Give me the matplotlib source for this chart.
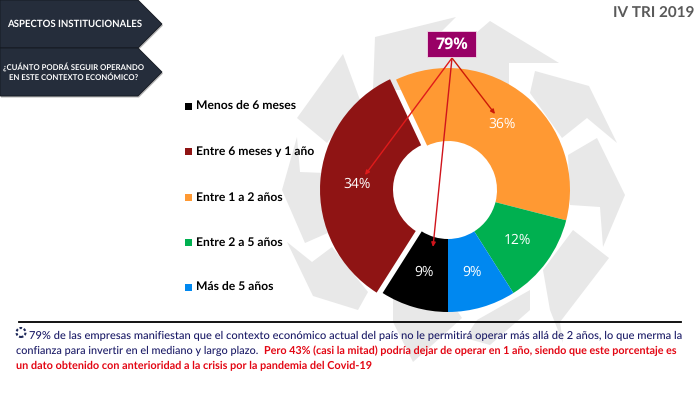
import matplotlib
matplotlib.use("Agg")
import matplotlib.pyplot as plt
from matplotlib.patches import Polygon, Rectangle, Circle

plt.rcParams["text.hinting"] = "no_hinting"
plt.rcParams["text.hinting_factor"] = 8

categories = ["Menos de 6 meses", "Entre 6 meses y 1 año", "Entre 1 a 2 años",
              "Entre 2 a 5 años", "Más de 5 años"]
values = [9, 34, 36, 12, 9]
colors = ["#000000", "#8f1414", "#ff9933", "#00b050", "#0088f0"]
explode = [0, 6, 0, 0, 0]

FONT = "Lato"
H = 394
def Y(y):
    return H - y

fig = plt.figure(figsize=(7, 3.94), dpi=100, facecolor="white")
ax = fig.add_axes([0, 0, 1, 1])

# grey pinwheel in the background
GREY = "#e8e8e8"
shapes = [
    [(375, 37), (456, 17), (428, 45), (476, 33), (490, 21), (559, 63), (509, 63), (509, 90), (373, 90)],
    [(343, 54), (297, 118), (327, 143), (360, 100)],
    [(297, 137), (300, 172), (325, 173), (330, 232), (305, 243), (282, 190)],
    [(287, 242), (312, 262), (332, 247), (368, 292), (358, 310), (313, 296)],
    [(393, 295), (393, 322), (413, 362), (440, 338), (462, 318), (450, 300)],
    [(477, 320), (530, 290), (530, 310), (490, 345), (465, 338)],
    [(543, 270), (573, 230), (609, 258), (560, 322), (563, 343), (550, 310)],
    [(597, 138), (568, 155), (570, 205), (600, 207), (603, 247), (625, 195)],
    [(535, 71), (589, 86), (617, 143), (587, 118), (562, 138), (530, 93)],
]
for s in shapes:
    ax.add_patch(Polygon([(x, Y(y)) for x, y in s], closed=True, fc=GREY, ec="none", zorder=1))

# donut
wedges, texts, autotexts = ax.pie(
    values, colors=colors, explode=explode, startangle=270, counterclock=False,
    center=(448, Y(190)), radius=122, wedgeprops=dict(width=73, linewidth=0),
    autopct=lambda p: f"{round(p)}%", pctdistance=0.70,
    textprops=dict(color="white", fontsize=10, family="Open Sans"))
for w in wedges:
    w.set_zorder(2)
for t in autotexts:
    t.set_zorder(3)

ax.set_xlim(0, 700)
ax.set_ylim(0, H)
ax.set_aspect("auto")
ax.axis("off")

# header chevrons
DARK = "#252d3b"
for top in (0, 48):
    pts = [(0, top), (138, top), (162, top + 24), (138, top + 48), (0, top + 48)]
    ax.add_patch(Polygon([(x + 1, Y(y + 1.5)) for x, y in pts], closed=True, fc="#b5b5b5", ec="none", zorder=4))
    ax.add_patch(Polygon([(x, Y(y)) for x, y in pts], closed=True, fc=DARK, ec="#14181f", lw=0.6, zorder=5))
ax.text(75, Y(24), "ASPECTOS INSTITUCIONALES", color="white", fontsize=6.9, fontweight="bold",
        family=FONT, ha="center", va="center", zorder=6)
ax.text(74, Y(67), "¿CUÁNTO PODRÁ SEGUIR OPERANDO", color="white", fontsize=5.6, fontweight="bold",
        family=FONT, ha="center", va="center", zorder=6)
ax.text(74, Y(77.5), "EN ESTE CONTEXTO ECONÓMICO?", color="white", fontsize=5.6, fontweight="bold",
        family=FONT, ha="center", va="center", zorder=6)

ax.text(694, Y(14), "IV TRI 2019", color="#595959", fontsize=11, fontweight="bold",
        family=FONT, ha="right", va="center", zorder=6)

# legend
for cat, col, y in zip(categories, colors, [106, 151.5, 197, 242, 287]):
    ax.add_patch(Rectangle((185, Y(y + 3.5)), 7, 7, fc=col, ec="none", zorder=6))
    ax.text(196, Y(y), cat, color="black", fontsize=8.7, fontweight="bold", family=FONT,
            ha="left", va="center", zorder=6)

# callout
ax.add_patch(Rectangle((427, Y(57)), 49, 26, fc="#990066", ec="#f3d9e8", lw=0.6, zorder=7))
ax.text(451.5, Y(44.5), "79%", color="white", fontsize=11.5, fontweight="bold", family="Open Sans",
        ha="center", va="center", zorder=8)
for end, col in [((365, 175), "#e01b1b"), ((433, 247), "#d0141c"), ((495, 114), "#cc1a08")]:
    ax.annotate("", xy=(end[0], Y(end[1])), xytext=(452, Y(58)),
                arrowprops=dict(arrowstyle="-|>,head_length=0.25,head_width=0.12", color=col, lw=1,
                                shrinkA=0, shrinkB=0), zorder=6)

# rule
ax.plot([19, 681], [Y(322), Y(322)], color="black", lw=1.3, zorder=6)

# icon
ax.add_patch(Circle((21, Y(332.5)), 4.5, fc="none", ec="#1f2a5a", lw=1.5, ls=(0, (1.2, 0.9)), zorder=6))

# footer text, each run fitted to its extent
NAVY = "#1a1a66"
RED = "#e30613"
renderer = fig.canvas.get_renderer()

def fitted(s, x0, x1, y, col, weight):
    t = ax.text(x0, Y(y), s, color=col, fontsize=8, fontweight=weight, family=FONT,
                ha="left", va="baseline", zorder=6)
    target = x1 - x0
    best, best_err = 8.0, 1e9
    for i in range(80):
        size = 7.2 + i * 0.02
        t.set_fontsize(size)
        err = abs(t.get_window_extent(renderer).width - target)
        if err < best_err:
            best, best_err = size, err
    t.set_fontsize(best)

fitted("79% de las empresas manifiestan que el contexto económico actual del país no le permitirá operar más allá de 2 años, lo que merma la",
       29, 685, 339, NAVY, "medium")
fitted("confianza para invertir en el mediano y largo plazo.", 16, 259, 354, NAVY, "medium")
fitted("Pero 43% (casi la mitad) podría dejar de operar en 1 año, siendo que este porcentaje es",
       264, 675, 354, RED, "bold")
fitted("un dato obtenido con anterioridad a la crisis por la pandemia del Covid-19", 16, 373, 369, RED, "bold")

fig.savefig("out.png", dpi=100, facecolor="white")
